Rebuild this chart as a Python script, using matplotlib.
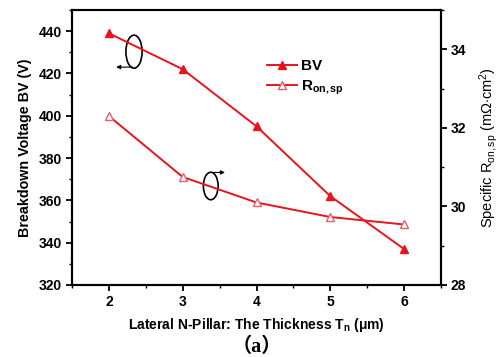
import matplotlib
matplotlib.use("Agg")
import matplotlib.pyplot as plt
from matplotlib.patches import Ellipse
from matplotlib.ticker import MultipleLocator

# =========================
# DATA
# =========================
thickness = [2, 3, 4, 5, 6]
bv = [439, 422, 395, 362, 337]
ron_sp = [32.3, 30.75, 30.1, 29.73, 29.54]

RED = "#e8141b"
PINK = "#e06070"

plt.rcParams["font.family"] = ["Liberation Sans", "DejaVu Sans"]
plt.rcParams["mathtext.fontset"] = "custom"
plt.rcParams["mathtext.rm"] = "Liberation Sans"
plt.rcParams["mathtext.bf"] = "Liberation Sans:bold"
plt.rcParams["mathtext.it"] = "Liberation Sans:italic"

fig = plt.figure(figsize=(4.99, 3.57), dpi=100)
ax = fig.add_axes([0.1443, 0.2017, 0.7395, 0.7703])
ax2 = ax.twinx()

# =========================
# LINES
# =========================
l1, = ax.plot(thickness, bv, color=RED, lw=1.4, marker="^", ms=6,
              mfc=RED, mec=RED, label="BV")
l2, = ax2.plot(thickness, ron_sp, color=RED, lw=1.4, marker="^", ms=6,
               mfc="white", mec=PINK, label=r"R$_\mathbf{on,sp}$")

ax.set_xlim(1.5, 6.5)
ax.set_ylim(320, 450)
ax2.set_ylim(28, 35)

ax.xaxis.set_major_locator(MultipleLocator(1))
ax.xaxis.set_minor_locator(MultipleLocator(0.5))
ax.yaxis.set_major_locator(MultipleLocator(20))
ax.yaxis.set_minor_locator(MultipleLocator(10))
ax2.yaxis.set_major_locator(MultipleLocator(2))
ax2.yaxis.set_minor_locator(MultipleLocator(1))

for a in (ax, ax2):
    for s in a.spines.values():
        s.set_linewidth(1.5)
    a.tick_params(which="major", direction="out", length=4.5, width=1.3,
                  labelsize=10, pad=2.5)
    a.tick_params(which="minor", direction="out", length=2.5, width=1.0)

for lab in ax.get_xticklabels() + ax.get_yticklabels():
    lab.set_fontweight("bold")
for lab in ax2.get_yticklabels():
    lab.set_fontweight("bold")

ax.set_xlabel(r"Lateral N-Pillar: The Thickness T$_\mathbf{n}$ ($\mathbf{\mu}$m)",
              fontsize=10, fontweight="bold", labelpad=5)
ax.set_ylabel("Breakdown Voltage BV (V)", fontsize=10.3, fontweight="bold",
              labelpad=5)
ax2.set_ylabel(r"Specific R$_\mathrm{on,sp}$ (m$\Omega$$\cdot$cm$^2$)",
               fontsize=10.5, labelpad=8)

# =========================
# LEGEND
# =========================
leg = ax2.legend([l1, l2], ["BV", r"R$_\mathbf{on,sp}$"], loc="upper left",
                 bbox_to_anchor=(0.49, 0.87), frameon=False, fontsize=11,
                 handlelength=2.0, handletextpad=0.25, labelspacing=0.35)
for t in leg.get_texts():
    t.set_fontweight("bold")

# =========================
# AXIS MARKERS (ellipses + arrows)
# =========================
ax.add_patch(Ellipse((2.34, 430.3), 0.22, 15.6, fill=False, lw=1.2,
                     color="black"))
ax.annotate("", xy=(2.06, 423), xytext=(2.36, 423),
            arrowprops=dict(arrowstyle="-|>", color="black", lw=0.8,
                            mutation_scale=6))
ax.add_patch(Ellipse((3.38, 366.8), 0.2, 13, fill=False, lw=1.2,
                     color="black"))
ax.annotate("", xy=(3.61, 373.2), xytext=(3.38, 373.2),
            arrowprops=dict(arrowstyle="-|>", color="black", lw=0.8,
                            mutation_scale=6))

fig.text(0.515, 0.0, "（a）", ha="center", va="bottom", fontsize=14.5,
         fontweight="bold", family=["Liberation Serif", "Noto Sans CJK SC"])

fig.savefig("out.png", dpi=100)
